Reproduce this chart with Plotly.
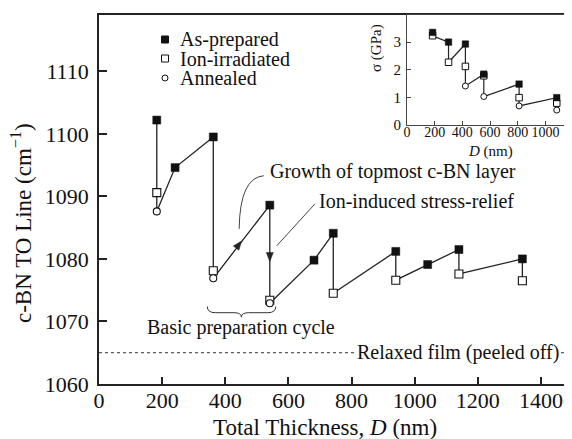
import plotly.graph_objects as go
import math

# ---------------- main plot data ----------------
thick_prep = [183, 241, 362, 541, 681, 742, 940, 1041, 1140, 1341]
to_prep = [1102.2, 1094.6, 1099.5, 1088.6, 1079.8, 1084.1, 1081.2, 1079.1, 1081.5, 1080.0]
thick_irr = [183, 362, 541, 742, 940, 1140, 1341]
to_irr = [1090.6, 1078.1, 1073.4, 1074.5, 1076.6, 1077.6, 1076.5]
thick_ann = [183, 362, 541]
to_ann = [1087.6, 1076.9, 1072.9]
relaxed_level = 1065

x_ticks = [0, 200, 400, 600, 800, 1000, 1200, 1400]
y_ticks = [1060, 1070, 1080, 1090, 1100, 1110]

# ---------------- inset data ----------------
ins_d_prep = [185, 300, 422, 555, 810, 1082]
sig_prep = [3.35, 3.0, 2.93, 1.84, 1.48, 0.99]
ins_d_irr = [185, 300, 422, 555, 810, 1082]
sig_irr = [3.23, 2.27, 2.12, 1.78, 0.99, 0.79]
ins_d_ann = [422, 555, 810, 1082]
sig_ann = [1.41, 1.03, 0.69, 0.54]

ins_x_ticks = [0, 200, 400, 600, 800, 1000]
ins_y_ticks = [0, 1, 2, 3]

FONT = "Liberation Serif, Times New Roman, serif"
INK = "#111111"

X_RANGE = [0, 1495]
Y_RANGE = [1060, 1119]


def sawtooth(xp, yp, xi, yi, xa, ya):
    xs = sorted(set(xp) | set(xi) | set(xa))
    px_, py_ = [], []
    for x in xs:
        for xx, yy in ((xp, yp), (xi, yi), (xa, ya)):
            if x in xx:
                px_.append(x)
                py_.append(yy[xx.index(x)])
    return px_, py_


fig = go.Figure()

# main connecting line
lx, ly = sawtooth(thick_prep, to_prep, thick_irr, to_irr, thick_ann, to_ann)
fig.add_trace(go.Scatter(x=lx, y=ly, mode="lines", line=dict(color="#222", width=1.3),
                         showlegend=False, hoverinfo="skip"))
fig.add_trace(go.Scatter(x=thick_irr, y=to_irr, mode="markers", name="Ion-irradiated", showlegend=False,
                         marker=dict(symbol="square", size=8, color="white", line=dict(color="#111", width=1.1))))
fig.add_trace(go.Scatter(x=thick_ann, y=to_ann, mode="markers", name="Annealed", showlegend=False,
                         marker=dict(symbol="circle", size=7, color="white", line=dict(color="#111", width=1.1))))
fig.add_trace(go.Scatter(x=thick_prep, y=to_prep, mode="markers", name="As-prepared", showlegend=False,
                         marker=dict(symbol="square", size=8, color="#111", line=dict(color="#111", width=0.5))))

# inset
ix, iy = sawtooth(ins_d_prep, sig_prep, ins_d_irr, sig_irr, ins_d_ann, sig_ann)
fig.add_trace(go.Scatter(x=ix, y=iy, mode="lines", line=dict(color="#222", width=1.2),
                         xaxis="x2", yaxis="y2", showlegend=False, hoverinfo="skip"))
fig.add_trace(go.Scatter(x=ins_d_irr, y=sig_irr, mode="markers", xaxis="x2", yaxis="y2", showlegend=False,
                         marker=dict(symbol="square", size=6.5, color="white", line=dict(color="#111", width=1))))
fig.add_trace(go.Scatter(x=ins_d_ann, y=sig_ann, mode="markers", xaxis="x2", yaxis="y2", showlegend=False,
                         marker=dict(symbol="circle", size=6, color="white", line=dict(color="#111", width=1))))
fig.add_trace(go.Scatter(x=ins_d_prep, y=sig_prep, mode="markers", xaxis="x2", yaxis="y2", showlegend=False,
                         marker=dict(symbol="square", size=6.5, color="#111", line=dict(color="#111", width=0.5))))

# The page body has an 8px margin, so the figure starts at screen (8, 8).
OFF = 8
SCR_W, SCR_H = 572, 439
PL, PR, PT, PB = 99, 571, 15, 384          # plot area in screen pixels
W, H = SCR_W - OFF, SCR_H - OFF
ML, MT = PL - OFF, PT - OFF
MR = W - (PR - OFF)
MB = H - (PB - OFF)
PW, PH = PR - PL, PB - PT
KX = PW / (X_RANGE[1] - X_RANGE[0])
KY = PH / (Y_RANGE[1] - Y_RANGE[0])


def px(xs):
    return (xs - PL) / PW


def py(ys):
    return (PB - ys) / PH


axis_common = dict(showgrid=False, zeroline=False, showline=True, mirror=True,
                   ticks="inside", color=INK, automargin=False)

fig.update_layout(
    width=W, height=H, margin=dict(l=ML, r=MR, t=MT, b=MB, autoexpand=False),
    paper_bgcolor="white", plot_bgcolor="white",
    font=dict(family=FONT, color=INK, size=20),
    showlegend=False,
    xaxis=dict(range=X_RANGE, tickvals=x_ticks, linewidth=1.6, linecolor="#222",
               ticklen=7, tickwidth=1.5, tickcolor="#222", tickfont=dict(size=22, family=FONT),
               ticklabelstandoff=-4, **axis_common),
    yaxis=dict(range=Y_RANGE, tickvals=y_ticks, linewidth=1.6, linecolor="#222",
               ticklen=8, tickwidth=1.5, tickcolor="#222", tickfont=dict(size=22, family=FONT),
               ticklabelstandoff=4, **axis_common),
    xaxis2=dict(domain=[px(407), 1], anchor="y2", range=[0, 1185], tickvals=ins_x_ticks,
                linewidth=1.2, linecolor="#444", ticklen=4, tickwidth=1, tickcolor="#444",
                tickfont=dict(size=14, family=FONT), ticklabelstandoff=-6, **axis_common),
    yaxis2=dict(domain=[py(125), 1], anchor="x2", range=[0, 3.98], tickvals=ins_y_ticks,
                linewidth=1.2, linecolor="#444", ticklen=4, tickwidth=1, tickcolor="#444",
                tickfont=dict(size=15, family=FONT), ticklabelstandoff=2, **axis_common),
)


def arrowhead_path(xc, yc, dxp, dyp, length=9.0, half=3.5):
    """Filled triangle centred at data point (xc, yc), pointing along the screen direction (dxp, dyp)."""
    n = math.hypot(dxp, dyp)
    ux, uy = dxp / n, dyp / n
    vx, vy = -uy, ux

    def to_data(ox, oy):
        return xc + ox / KX, yc - oy / KY
    tip = to_data(ux * length / 2, uy * length / 2)
    b1 = to_data(-ux * length / 2 + vx * half, -uy * length / 2 + vy * half)
    b2 = to_data(-ux * length / 2 - vx * half, -uy * length / 2 - vy * half)
    return "M {:.2f},{:.3f} L {:.2f},{:.3f} L {:.2f},{:.3f} Z".format(tip[0], tip[1], b1[0], b1[1], b2[0], b2[1])


shapes = []
# relaxed film dotted line
shapes.append(dict(type="line", xref="paper", yref="y", x0=0, x1=1, y0=relaxed_level, y1=relaxed_level,
                   line=dict(color="#333", width=1, dash="dot")))
# growth curve
shapes.append(dict(type="path", xref="x", yref="y",
                   path="M 522,1093.3 Q 446,1093.0 444,1084.8",
                   line=dict(color="#444", width=1)))
# ion-induced pointer line
shapes.append(dict(type="line", xref="x", yref="y", x0=684, y0=1088.8, x1=563, y1=1082.1,
                   line=dict(color="#444", width=1)))
# brace
shapes.append(dict(type="path", xref="x", yref="y",
                   path=("M 343,1072.4 Q 343,1071.4 368,1071.4 L 428,1071.4 "
                         "Q 451,1071.4 451,1070.7 Q 451,1071.4 474,1071.4 L 535,1071.4 "
                         "Q 560,1071.4 560,1072.4"),
                   line=dict(color="#333", width=1)))
# arrowheads on the sawtooth (growth: along rising segment; relief: downwards)
seg_dx = (541 - 362) * KX
seg_dy = -(1088.6 - 1076.9) * KY
shapes.append(dict(type="path", xref="x", yref="y", path=arrowhead_path(443, 1082.3, seg_dx, seg_dy),
                   fillcolor="#222", line=dict(color="#222", width=0.5)))
shapes.append(dict(type="path", xref="x", yref="y", path=arrowhead_path(541, 1080.3, 0, 1),
                   fillcolor="#222", line=dict(color="#222", width=0.5)))
# legend glyphs
leg_rows = [39.5, 58.5, 78]
leg_x = px(165)
for i, row in enumerate(leg_rows):
    yc = py(row)
    if i == 2:
        shapes.append(dict(type="circle", xref="paper", yref="paper", xsizemode="pixel", ysizemode="pixel",
                           xanchor=leg_x, yanchor=yc, x0=-3, x1=3, y0=-3, y1=3,
                           fillcolor="white", line=dict(color="#111", width=1)))
    else:
        shapes.append(dict(type="rect", xref="paper", yref="paper", xsizemode="pixel", ysizemode="pixel",
                           xanchor=leg_x, yanchor=yc, x0=-3.5, x1=3.5, y0=-3.5, y1=3.5,
                           fillcolor="#111" if i == 0 else "white", line=dict(color="#111", width=1)))
fig.update_layout(shapes=shapes)

ann = []
for name, row in zip(["As-prepared", "Ion-irradiated", "Annealed"], leg_rows):
    ann.append(dict(text=name, xref="paper", yref="paper", x=px(178), y=py(row), xanchor="left",
                    yanchor="middle", showarrow=False, font=dict(size=20)))
ann.append(dict(text="Growth of topmost c-BN layer", xref="x", yref="y", x=535, y=1093.9,
                xanchor="left", yanchor="middle", showarrow=False, font=dict(size=20)))
ann.append(dict(text="Ion-induced stress-relief", xref="x", yref="y", x=689, y=1089.2,
                xanchor="left", yanchor="middle", showarrow=False, font=dict(size=20)))
ann.append(dict(text="Basic preparation cycle", xref="x", yref="y", x=451, y=1069.0,
                xanchor="center", yanchor="middle", showarrow=False, font=dict(size=20)))
ann.append(dict(text="Relaxed film (peeled off)", xref="x", yref="y", x=1137, y=relaxed_level,
                xanchor="center", yanchor="middle", showarrow=False, font=dict(size=20),
                bgcolor="white", borderpad=1))
# axis titles
ann.append(dict(text="c-BN TO Line (cm<sup>−1</sup>)", xref="paper", yref="paper", x=px(22), y=py(223),
                textangle=-90, showarrow=False, xanchor="center", yanchor="middle", font=dict(size=23)))
ann.append(dict(text="Total Thickness, <i>D</i> (nm)", xref="paper", yref="paper", x=px(325), y=py(427),
                showarrow=False, xanchor="center", yanchor="middle", font=dict(size=23)))
ann.append(dict(text="σ (GPa)", xref="paper", yref="paper", x=px(376), y=py(48),
                textangle=-90, showarrow=False, xanchor="center", yanchor="middle", font=dict(size=15)))
ann.append(dict(text="<i>D</i> (nm)", xref="paper", yref="paper", x=px(490), y=py(151),
                showarrow=False, xanchor="center", yanchor="middle", font=dict(size=15)))
fig.update_layout(annotations=ann)

fig.write_html("out.html")
